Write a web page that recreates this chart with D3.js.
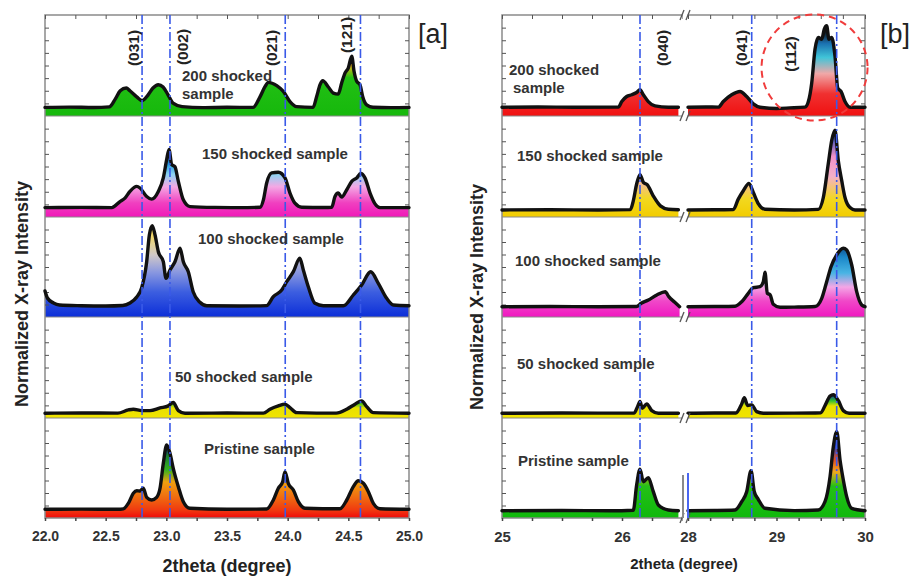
<!DOCTYPE html>
<html>
<head>
<meta charset="utf-8">
<script src="https://cdn.jsdelivr.net/npm/d3@7"></script>
<style>
    body { margin: 0; background: #fff; }
    svg { font-family: "Liberation Sans", Arial, sans-serif; }
</style>
</head>
<body>
<svg width="915" height="576"></svg>
<script>
// ---- data: [2theta, normalized intensity] ----
const sampleNames = ["200 shocked sample", "150 shocked sample", "100 shocked sample", "50 shocked sample", "Pristine sample"]

const shock200A = [[22.00, 8.5], [22.20, 8.8], [22.40, 8.4], [22.53, 9.0], [22.58, 17], [22.62, 25], [22.67, 27.7], [22.70, 25],
    [22.756, 19], [22.80, 15.3], [22.85, 21], [22.89, 27.7], [22.934, 31], [22.973, 28.7], [23.014, 21], [23.055, 12.7],
    [23.13, 9.3], [23.30, 8.3], [23.50, 8.6], [23.714, 8.5], [23.772, 19], [23.813, 29], [23.84, 33.3], [23.91, 30],
    [23.964, 24.3], [24.019, 14.3], [24.074, 9.3], [24.209, 8.5], [24.239, 19.3], [24.267, 31], [24.289, 35], [24.335, 28.7],
    [24.376, 22.7], [24.417, 21.7], [24.445, 32.7], [24.473, 42.7], [24.50, 47.7], [24.528, 59.3], [24.547, 44.3],
    [24.569, 34.3], [24.596, 31], [24.618, 19.3], [24.651, 11], [24.703, 8.7], [24.85, 8.3], [25.00, 8.5]]
const shock150A = [[22.00, 9.3], [22.30, 9.5], [22.55, 9.3], [22.618, 15.3], [22.659, 18.7], [22.70, 25.3], [22.756, 30.3],
    [22.783, 28.7], [22.838, 20.3], [22.879, 17.7], [22.934, 25.3], [22.975, 38.7], [23.003, 57], [23.022, 67], [23.044, 52],
    [23.071, 49.7], [23.099, 35.3], [23.14, 17], [23.195, 10.3], [23.40, 9.5], [23.60, 9.3], [23.772, 9.6], [23.80, 17],
    [23.827, 33.7], [23.868, 43.7], [23.923, 44.3], [23.978, 38.7], [24.019, 23.7], [24.06, 13.7], [24.116, 9.7],
    [24.30, 9.4], [24.363, 9.6], [24.39, 20.3], [24.417, 23.7], [24.445, 19.7], [24.487, 27], [24.528, 35.3],
    [24.569, 38.7], [24.602, 43], [24.637, 38.7], [24.679, 23.7], [24.72, 13], [24.761, 9.3], [25.00, 9.3]]
const shock100A = [[22.00, 26], [22.02, 19], [22.07, 14], [22.12, 12], [22.30, 11.3], [22.50, 11.0], [22.64, 11.5],
    [22.70, 14], [22.756, 20], [22.797, 29.3], [22.838, 55.3], [22.86, 82], [22.884, 91.3], [22.907, 82], [22.934, 65.3],
    [22.975, 55.3], [22.997, 38.7], [23.03, 47], [23.071, 55.3], [23.113, 68.7], [23.14, 55.3], [23.181, 45.3],
    [23.222, 25], [23.277, 14.7], [23.333, 11.3], [23.60, 11.0], [23.827, 11.4], [23.882, 20.3], [23.951, 27],
    [23.992, 35.3], [24.047, 45.3], [24.10, 58.7], [24.129, 47], [24.17, 30.3], [24.225, 13.7], [24.294, 11.3],
    [24.459, 11.2], [24.541, 22], [24.61, 32], [24.684, 45.3], [24.747, 33.7], [24.816, 18.7], [24.871, 12], [25.00, 11.3]]
const shock50A = [[22.00, 4.7], [22.30, 5.0], [22.60, 4.8], [22.687, 8], [22.728, 8.7], [22.797, 7.3], [22.865, 7.3],
    [22.948, 10], [23.016, 12], [23.057, 15.3], [23.099, 7.3], [23.154, 4.7], [23.50, 4.9], [23.80, 4.8], [23.854, 8.7],
    [23.923, 12], [23.978, 13.7], [24.019, 10.3], [24.074, 5.3], [24.40, 4.8], [24.487, 8.7], [24.555, 13.7],
    [24.61, 17], [24.651, 11.3], [24.706, 5.3], [25.00, 4.7]]
const pristineA = [[22.00, 8.7], [22.30, 8.9], [22.60, 8.7], [22.646, 9.2], [22.687, 14.7], [22.728, 24.7], [22.756, 27.3],
    [22.783, 27], [22.81, 29.7], [22.838, 20.7], [22.879, 18], [22.92, 20.7], [22.948, 29.7], [22.975, 54.7],
    [23.003, 73], [23.03, 64.7], [23.057, 49.7], [23.099, 31.3], [23.14, 16.3], [23.195, 9.7], [23.50, 8.8],
    [23.827, 9.0], [23.882, 18], [23.923, 29.7], [23.959, 36.3], [23.978, 46.3], [24.005, 34.7], [24.047, 28],
    [24.088, 16.3], [24.143, 9.7], [24.43, 9.2], [24.487, 18], [24.541, 31.3], [24.582, 37.3], [24.624, 34.7],
    [24.665, 26.3], [24.706, 14.7], [24.761, 9.3], [25.00, 8.7]]

const shock200B = [[25.0, 8.7], [25.3, 8.9], [25.6, 8.6], [25.97, 8.8], [25.998, 14.3], [26.039, 19.3], [26.081, 21],
    [26.122, 23.3], [26.15, 26], [26.178, 21], [26.219, 14.3], [26.275, 10], [26.386, 8.7], [26.47, 8.7],
    [28.0, 8.7], [28.2, 8.9], [28.342, 8.8], [28.399, 14.3], [28.493, 21], [28.588, 24.3], [28.663, 19.3], [28.738, 12],
    [28.814, 8.7], [29.0, 7.5], [29.15, 8.0], [29.322, 8.8], [29.36, 14.3], [29.398, 32.7], [29.435, 66], [29.473, 77.7],
    [29.511, 76], [29.54, 86], [29.567, 89.3], [29.593, 76], [29.624, 77.7], [29.661, 59.3], [29.692, 27.7],
    [29.729, 24.3], [29.774, 14.3], [29.831, 8.7], [30.0, 8.7]]
const shock150B = [[25.0, 7], [25.4, 7.2], [25.8, 7], [26.07, 7.3], [26.094, 16], [26.122, 32.7], [26.15, 42], [26.178, 34.3],
    [26.21, 32], [26.26, 21], [26.32, 11], [26.386, 7.7], [26.47, 7.2],
    [28.0, 7], [28.3, 7.2], [28.512, 7.4], [28.568, 17.7], [28.625, 26], [28.689, 33.3], [28.738, 24.3], [28.794, 13.3],
    [28.87, 7.7], [29.2, 7.0], [29.472, 7.5], [29.529, 19.3], [29.585, 52.7], [29.624, 76], [29.661, 86], [29.698, 56],
    [29.737, 36], [29.774, 19.3], [29.831, 9.3], [29.887, 7], [30.0, 7]]
const shock100B = [[25.0, 10.3], [25.4, 10.5], [25.8, 10.2], [26.12, 10.5], [26.16, 13.7], [26.22, 17], [26.29, 22],
    [26.36, 25.3], [26.39, 20.3], [26.44, 14.7], [26.48, 10.3],
    [28.0, 10.3], [28.3, 10.5], [28.531, 10.8], [28.607, 15.3], [28.681, 23.7], [28.738, 29.3], [28.814, 30.3],
    [28.851, 35.3], [28.87, 44.7], [28.896, 23.7], [28.927, 22.3], [28.964, 12.7], [29.04, 9.7], [29.2, 9.9],
    [29.435, 10.5], [29.511, 18.7], [29.567, 35.3], [29.616, 50.3], [29.68, 62], [29.755, 68.7], [29.793, 67],
    [29.85, 52], [29.906, 25.3], [29.963, 12], [30.0, 10.3]]
const shock50B = [[25.0, 4.7], [25.5, 4.9], [26.1, 4.8], [26.131, 11.7], [26.15, 16.3], [26.169, 9.7], [26.206, 14],
    [26.248, 7.3], [26.303, 4.7], [26.47, 4.7],
    [28.0, 4.7], [28.3, 4.9], [28.54, 5], [28.607, 14], [28.636, 20], [28.675, 12.3], [28.72, 13], [28.776, 6.3],
    [28.85, 4.7], [29.2, 4.8], [29.5, 5.2], [29.548, 12.3], [29.605, 21.7], [29.642, 23], [29.698, 17.3], [29.755, 7.3],
    [29.82, 4.7], [30.0, 4.7]]
const pristineB = [[25.0, 7.3], [25.5, 7.5], [25.9, 7.3], [26.094, 7.8], [26.122, 33], [26.15, 48.7], [26.178, 36.3],
    [26.219, 40.3], [26.261, 26.3], [26.303, 13], [26.386, 8], [26.47, 7.3],
    [28.0, 7.3], [28.3, 7.5], [28.531, 8], [28.607, 16.3], [28.663, 26.3], [28.712, 47.3], [28.749, 26.3],
    [28.794, 18.7], [28.87, 9.7], [29.2, 7.4], [29.472, 8], [29.548, 16.3], [29.605, 41.3], [29.642, 71.3],
    [29.681, 86.3], [29.718, 58], [29.755, 38], [29.793, 21.3], [29.85, 9.7], [30.0, 7.3]]

const planesA = ["(031)", "(002)", "(021)", "(121)"]
const planePosA = [22.80, 23.03, 23.98, 24.60]
const planesB = ["(040)", "(041)", "(112)"]
const planePosB = [26.15, 28.72, 29.68]

const tickLabelsA = [22.0, 22.5, 23.0, 23.5, 24.0, 24.5, 25.0]
const tickLabelsB = [25, 26, 28, 29, 30]

// ---- layout & styles ----
const rowEdges = [15, 116, 217, 317, 418, 518]
const frameGrey = "#8a8a8a"
const textCol = "#333"

const gradA = [
    [[0, "#16b80c"], [38, "#22c014"], [50, "#e8b418"], [62, "#f09a10"]],
    [[0, "#f018b8"], [14, "#f040c0"], [30, "#f4a8e4"], [42, "#8fd4f2"], [52, "#2a9ee0"], [62, "#1a3c80"], [70, "#101820"]],
    [[0, "#0c2ed8"], [25, "#3c5ee0"], [45, "#8a98e0"], [62, "#d0c8c8"], [80, "#f0d870"], [92, "#f0d050"]],
    [[0, "#f2e400"], [10, "#e8e000"], [14, "#48c020"], [18, "#1040a0"]],
    [[0, "#f00a0a"], [8, "#f03a10"], [22, "#f07010"], [36, "#f0a010"], [48, "#38b020"], [62, "#1a8030"], [72, "#102c90"]]
]
const gradB = [
    [[0, "#f01010"], [22, "#f03030"], [42, "#f0a8a8"], [58, "#40c4d8"], [72, "#1a70b0"], [84, "#101010"]],
    [[0, "#f2cc00"], [18, "#f2d820"], [40, "#f4b0c8"], [60, "#f090c8"], [80, "#3050b8"], [88, "#102050"]],
    [[0, "#f018c0"], [16, "#f048c8"], [30, "#f4a6e6"], [44, "#48b4e4"], [60, "#1a86c8"], [70, "#105090"]],
    [[0, "#f2e400"], [12, "#e8e000"], [17, "#30c030"], [23, "#1030a0"]],
    [[0, "#10b80c"], [32, "#24c018"], [46, "#f0a820"], [58, "#e05020"], [72, "#2040c0"], [86, "#101840"]]
]

const svg = d3.select("svg")
const defs = svg.append("defs")

const rowY = d3.range(5).map(i => d3.scaleLinear().domain([0, 100]).range([rowEdges[i + 1], rowEdges[i]]))

const xA = d3.scaleLinear().domain([22, 25]).range([45, 409])
const xBL = d3.scaleLinear().domain([25, 26.5]).range([502, 682])
const xBR = d3.scaleLinear().domain([28, 30]).range([688, 865])
const xB = v => v < 27 ? xBL(v) : xBR(v)

function drawPanel(p) {
    const g = svg.append("g")
    const left = p.segs[0].range()[0]
    const right = p.segs[p.segs.length - 1].range()[1]

    // areas
    p.series.forEach((s, i) => {
        const y = rowY[i]
        const id = `${p.id}-grad-${i}`
        const grad = defs.append("linearGradient")
            .attr("id", id)
            .attr("gradientUnits", "userSpaceOnUse")
            .attr("x1", 0).attr("x2", 0)
            .attr("y1", y(0)).attr("y2", y(100))
        grad.selectAll("stop")
            .data(p.grads[i])
            .enter()
            .append("stop")
                .attr("offset", d => d[0] / 100)
                .attr("stop-color", d => d[1])

        p.segs.forEach(seg => {
            const [d0, d1] = seg.domain()
            const pts = s.filter(d => d[0] >= d0 && d[0] <= d1)
            const area = d3.area()
                .x(d => seg(d[0]))
                .y0(y(0))
                .y1(d => y(d[1]))
                .curve(d3.curveMonotoneX)
            g.append("path")
                .attr("d", area(pts))
                .attr("fill", `url(#${id})`)
        })
    })

    // frame + row separators + inner y ticks
    g.append("rect")
        .attr("x", left).attr("y", rowEdges[0])
        .attr("width", right - left).attr("height", rowEdges[5] - rowEdges[0])
        .attr("fill", "none")
        .attr("stroke", frameGrey)
        .attr("stroke-width", 1.5)
    rowEdges.slice(1, 5).forEach(e => {
        g.append("line")
            .attr("x1", left).attr("x2", right)
            .attr("y1", e).attr("y2", e)
            .attr("stroke", frameGrey)
            .attr("stroke-width", 1)
    })
    rowY.forEach(y => {
        const tv = [12.5, 25, 37.5, 50, 62.5, 75, 87.5]
        g.append("g")
            .attr("transform", `translate(${left},0)`)
            .call(d3.axisLeft(y).tickValues(tv).tickSize(-4).tickFormat(""))
            .call(a => a.select(".domain").remove())
            .call(a => a.selectAll("line").attr("stroke", "#555"))
        g.append("g")
            .attr("transform", `translate(${right},0)`)
            .call(d3.axisRight(y).tickValues(tv).tickSize(-4).tickFormat(""))
            .call(a => a.select(".domain").remove())
            .call(a => a.selectAll("line").attr("stroke", "#555"))
    })

    // x axes
    p.segs.forEach(seg => {
        const [d0, d1] = seg.domain()
        const quarters = d3.range(Math.round(d0 * 4), Math.round(d1 * 4) + 1).map(v => v / 4)
        g.append("g")
            .attr("transform", `translate(0,${rowEdges[0]})`)
            .call(d3.axisTop(seg).tickValues(quarters).tickSize(-4).tickFormat(""))
            .call(a => a.select(".domain").remove())
            .call(a => a.selectAll("line").attr("stroke", "#555"))
        g.append("g")
            .attr("transform", `translate(0,${rowEdges[5]})`)
            .call(d3.axisBottom(seg)
                .tickValues(quarters)
                .tickSize(3)
                .tickPadding(10)
                .tickFormat(d => p.tickLabels.includes(d) ? p.fmt(d) : ""))
            .call(a => a.select(".domain").remove())
            .call(a => a.selectAll("line").attr("stroke", "#444").attr("stroke-width", 1.5))
            .call(a => a.selectAll("text")
                .style("font-size", p.tickFont)
                .style("font-weight", "bold")
                .style("font-family", "'Liberation Sans', Arial, sans-serif")
                .attr("fill", textCol))
    })

    // curves
    p.series.forEach((s, i) => {
        const y = rowY[i]
        p.segs.forEach(seg => {
            const [d0, d1] = seg.domain()
            const pts = s.filter(d => d[0] >= d0 && d[0] <= d1)
            const line = d3.line()
                .x(d => seg(d[0]))
                .y(d => y(d[1]))
                .curve(d3.curveMonotoneX)
            g.append("path")
                .attr("d", line(pts))
                .attr("fill", "none")
                .attr("stroke", "#111")
                .attr("stroke-width", 3.4)
                .attr("stroke-linejoin", "round")
                .attr("stroke-linecap", "round")
        })
    })

    // dash-dot plane lines
    g.selectAll(".plane")
        .data(p.planePos)
        .enter()
        .append("line")
            .attr("class", "plane")
            .attr("x1", d => p.x(d)).attr("x2", d => p.x(d))
            .attr("y1", rowEdges[0]).attr("y2", rowEdges[5])
            .attr("stroke", "#3a5ae8")
            .attr("stroke-width", 1.6)
            .attr("stroke-dasharray", "9,3,2,3")

    // plane labels (vertical)
    g.selectAll(".hkl")
        .data(p.planes)
        .enter()
        .append("text")
            .attr("class", "hkl")
            .attr("transform", (d, i) => `translate(${p.x(p.planePos[i]) + p.hklDx[i]},${p.hklY[i]}) rotate(-90)`)
            .attr("text-anchor", "middle")
            .attr("dominant-baseline", "central")
            .style("font-size", "15.5px")
            .style("font-weight", "bold")
            .attr("fill", "#222")
            .text(d => d)

    // sample labels
    p.labelPos.forEach((pos, i) => {
        const t = g.append("text")
            .attr("x", pos[0]).attr("y", pos[1])
            .style("font-size", "15px")
            .style("font-weight", "bold")
            .attr("fill", textCol)
        if (i === 0) {
            const parts = sampleNames[0].split(" ")
            t.append("tspan").attr("x", pos[0]).text(parts[0] + " " + parts[1])
            t.append("tspan").attr("x", pos[0] + p.sampleDx).attr("dy", p.sampleDy).text(parts[2])
        } else {
            t.text(sampleNames[i])
        }
    })

    // axis titles
    g.append("text")
        .attr("transform", `translate(${p.yTitle[0]},${p.yTitle[1]}) rotate(-90)`)
        .attr("text-anchor", "middle")
        .attr("dominant-baseline", "central")
        .style("font-size", "18px")
        .style("font-weight", "bold")
        .attr("fill", "#222")
        .text("Normalized X-ray Intensity")
    g.append("text")
        .attr("x", p.xTitle[0]).attr("y", p.xTitle[1])
        .attr("text-anchor", "middle")
        .style("font-size", p.xTitleFont)
        .style("font-weight", "bold")
        .attr("fill", "#222")
        .text("2theta (degree)")
    g.append("text")
        .attr("x", p.tag[0]).attr("y", p.tag[1])
        .style("font-size", "27px")
        .attr("fill", "#222")
        .text(p.tagText)
    return g
}

drawPanel({
    id: "a",
    segs: [xA],
    x: xA,
    series: [shock200A, shock150A, shock100A, shock50A, pristineA],
    grads: gradA,
    planes: planesA,
    planePos: planePosA,
    hklDx: [-9, 13, -14, -14],
    hklY: [48, 47, 48, 35],
    tickLabels: tickLabelsA,
    fmt: d => d.toFixed(1),
    tickFont: "14px",
    labelPos: [[182, 81], [202, 159], [198, 244], [175, 382], [204, 454]],
    sampleDx: 0,
    sampleDy: 18,
    yTitle: [22, 294],
    xTitle: [227, 572],
    xTitleFont: "18px",
    tag: [418, 43],
    tagText: "[a]"
})

const gB = drawPanel({
    id: "b",
    segs: [xBL, xBR],
    x: xB,
    series: [shock200B, shock150B, shock100B, shock50B, pristineB],
    grads: gradB,
    planes: planesB,
    planePos: planePosB,
    hklDx: [22, -10, -46],
    hklY: [48, 48, 54],
    tickLabels: tickLabelsB,
    fmt: d => d,
    tickFont: "15px",
    labelPos: [[509, 75], [517, 161], [515, 266], [517, 369], [518, 466]],
    sampleDx: 4,
    sampleDy: 18,
    yTitle: [477, 297],
    xTitle: [684, 569],
    xTitleFont: "15px",
    tag: [880, 43],
    tagText: "[b]"
})

// axis break marks on panel b
rowEdges.forEach(e => {
    gB.append("rect")
        .attr("x", xBL(26.5) + 0.5).attr("y", e - 4)
        .attr("width", xBR(28) - xBL(26.5) - 1).attr("height", 8)
        .attr("fill", "#fff")
    ;[xBL(26.5), xBR(28)].forEach(bx => {
        gB.append("line")
            .attr("x1", bx - 2).attr("y1", e + 5)
            .attr("x2", bx + 2).attr("y2", e - 5)
            .attr("stroke", "#555")
            .attr("stroke-width", 1.3)
    })
})

// stray marker bars at the break in the pristine row
gB.append("line")
    .attr("x1", xBL(26.5) + 1).attr("x2", xBL(26.5) + 1)
    .attr("y1", rowY[4](43)).attr("y2", rowY[4](0))
    .attr("stroke", "#8a8a8a").attr("stroke-width", 2)
gB.append("line")
    .attr("x1", xBR(28)).attr("x2", xBR(28))
    .attr("y1", rowY[4](45)).attr("y2", rowY[4](0))
    .attr("stroke", "#4a66f0").attr("stroke-width", 2)

// red dashed circle around the (112) peak
gB.append("ellipse")
    .attr("cx", xBR(29.43)).attr("cy", rowY[0](48))
    .attr("rx", 53).attr("ry", 53)
    .attr("fill", "none")
    .attr("stroke", "#f03c3c")
    .attr("stroke-width", 2)
    .attr("stroke-dasharray", "7,5")
</script>
</body>
</html>
